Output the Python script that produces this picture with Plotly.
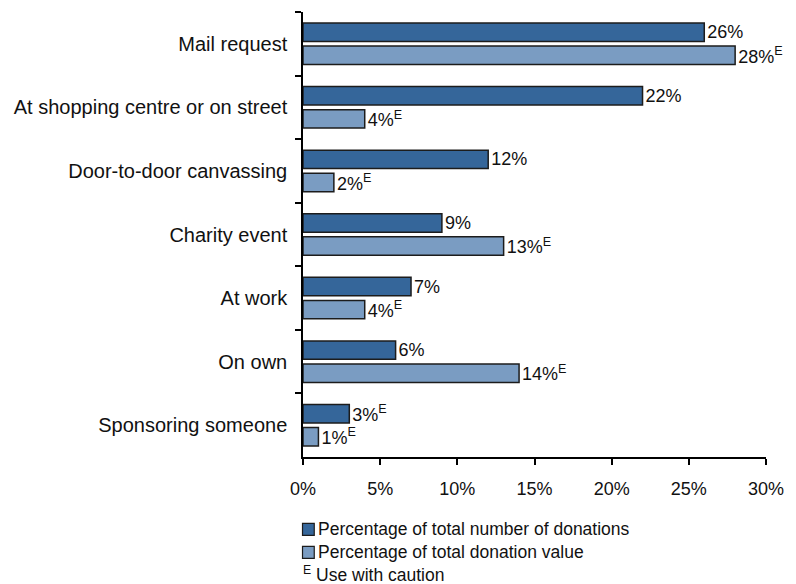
import plotly.graph_objects as go

# Fundraising methods and their shares
categories = [
    "Mail request",
    "At shopping centre or on street",
    "Door-to-door canvassing",
    "Charity event",
    "At work",
    "On own",
    "Sponsoring someone",
]
pct_number = [26, 22, 12, 9, 7, 6, 3]
pct_value = [28, 4, 2, 13, 4, 14, 1]
# "E" flag = estimate to be used with caution
flag_number = [False, False, False, False, False, False, True]
flag_value = [True, True, True, True, True, True, True]

series_names = [
    "Percentage of total number of donations",
    "Percentage of total donation value",
]
x_ticks = [0, 5, 10, 15, 20, 25, 30]
x_tick_labels = [f"{v}%" for v in x_ticks]

DARK = "#35669A"
LIGHT = "#7A9CC2"
EDGE = "#1c1c1c"
FONT = "Liberation Sans, Arial, sans-serif"


def labels(values, flags):
    return [f"{v}%" + ("<sup>E</sup>" if f else "") for v, f in zip(values, flags)]


fig = go.Figure()
for vals, flags, colour, name in [
    (pct_number, flag_number, DARK, series_names[0]),
    (pct_value, flag_value, LIGHT, series_names[1]),
]:
    fig.add_trace(go.Bar(
        y=categories, x=vals, orientation="h", name=name,
        marker=dict(color=colour, line=dict(color=EDGE, width=1.5)),
        text=labels(vals, flags), textposition="outside",
        textfont=dict(size=18, color="#111111", family=FONT),
        constraintext="none", cliponaxis=False, showlegend=False,
    ))

# Plot-area geometry (pixels) used to place the legend below the axes
L, R, T, B = 302.5, 776, 12, 456.7
W, H = R - L, B - T


def px_x(x):
    return (x - L) / W


def px_y(y):
    return (B - y) / H


shapes = []
annotations = []
for i, (colour, name) in enumerate(zip([DARK, LIGHT], series_names)):
    yc = 529 + i * 23
    shapes.append(dict(
        type="rect", xref="paper", yref="paper",
        x0=px_x(302), x1=px_x(314), y0=px_y(yc - 6), y1=px_y(yc + 6),
        fillcolor=colour, line=dict(color=EDGE, width=1.2),
    ))
    annotations.append(dict(
        xref="paper", yref="paper", x=px_x(316), y=px_y(yc),
        xanchor="left", yanchor="middle", text=name, showarrow=False,
        font=dict(size=17.5, color="#111111", family=FONT),
    ))
annotations.append(dict(
    xref="paper", yref="paper", x=px_x(300), y=px_y(574),
    xanchor="left", yanchor="middle", text="<sup>E</sup> Use with caution",
    showarrow=False, font=dict(size=17.5, color="#111111", family=FONT),
))

fig.update_layout(
    width=796, height=584,
    margin=dict(l=L, r=796 - R, t=T, b=584 - B, pad=0),
    paper_bgcolor="white", plot_bgcolor="white",
    barmode="group", bargap=0.275, bargroupgap=0.2,
    font=dict(family=FONT, color="#111111"),
    shapes=shapes, annotations=annotations,
    xaxis=dict(
        range=[0, 30], tickvals=x_ticks, ticktext=x_tick_labels,
        showgrid=False, zeroline=False, showline=True, linecolor="#000000",
        linewidth=1.5, ticks="outside", ticklen=6, tickwidth=1.5,
        tickcolor="#000000", ticklabelstandoff=9,
        tickfont=dict(size=18, family=FONT, color="#111111"),
    ),
    yaxis=dict(
        autorange="reversed", showgrid=False, zeroline=False, showline=True,
        linecolor="#000000", linewidth=1.5, ticks="outside", ticklen=6,
        tickwidth=1.5, tickcolor="#000000", tickson="boundaries",
        ticklabelstandoff=10,
        tickfont=dict(size=20, family=FONT, color="#111111"),
    ),
)

fig.write_html("out.html")
